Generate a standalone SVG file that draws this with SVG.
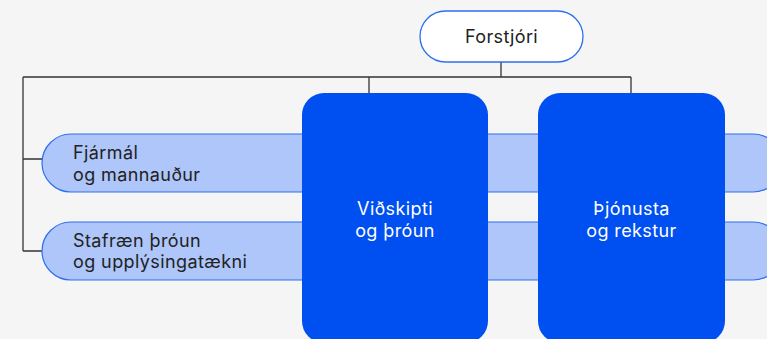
<svg xmlns="http://www.w3.org/2000/svg" width="767" height="339" viewBox="0 0 767 339">
<style>
.ln{fill:none;stroke:#333;stroke-width:1.3}
.pill{fill:#aec6f9;stroke:#2f6ef0;stroke-width:1.2}
.box{fill:#004ff0}
.t{font-family:Inter,"Liberation Sans",sans-serif;font-size:18px;letter-spacing:0.4px;fill:#222}
.w{font-family:Inter,"Liberation Sans",sans-serif;font-size:18px;letter-spacing:0.4px;fill:#fff;text-anchor:middle}
</style>
<rect width="767" height="339" fill="#f5f5f5"/>
<g id="connectors">
<path class="ln" d="M501 62V77M23 77H631M369 77V93M631 77V93M23 77V251M23 159H42M23 251H42"/>
</g>
<g id="forstjori">
<rect x="420" y="11" width="163" height="51" rx="25.5" fill="#fff" stroke="#2f6ef0" stroke-width="1.3"/>
<text class="t" x="501.5" y="43" text-anchor="middle">Forstjóri</text>
</g>
<g id="fjarmal">
<rect class="pill" x="42" y="134" width="740" height="58" rx="29"/>
<text class="t" x="73" y="159">Fjármál</text>
<text class="t" x="73" y="181">og mannauður</text>
</g>
<g id="stafraen">
<rect class="pill" x="42" y="222" width="740" height="58" rx="29"/>
<text class="t" x="73" y="247">Stafræn þróun</text>
<text class="t" x="73" y="268">og upplýsingatækni</text>
</g>
<g id="vidskipti">
<rect class="box" x="302" y="93" width="186" height="250" rx="22"/>
<text class="w" x="395" y="215">Viðskipti</text>
<text class="w" x="395" y="237">og þróun</text>
</g>
<g id="thjonusta">
<rect class="box" x="538" y="93" width="187" height="250" rx="22"/>
<text class="w" x="631.5" y="215">Þjónusta</text>
<text class="w" x="631.5" y="237">og rekstur</text>
</g>
</svg>
